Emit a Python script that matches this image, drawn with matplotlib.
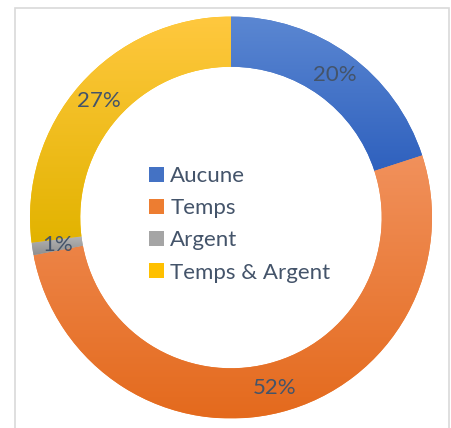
import matplotlib
matplotlib.use("Agg")
import matplotlib.pyplot as plt
import numpy as np
from matplotlib.colors import LinearSegmentedColormap
from matplotlib.patches import Rectangle

labels = ["Aucune", "Temps", "Argent", "Temps & Argent"]
values = [20, 52, 1, 27]
# gradient per slice: (top, bottom)
top_colors = ["#5B87D2", "#F1915C", "#B4B4B4", "#FFC83F"]
bottom_colors = ["#2F61BE", "#E46A1D", "#8F8F8F", "#E2B300"]
mid_colors = ["#4472C4", "#ED7D31", "#A5A5A5", "#FFC000"]
text_color = "#44546A"

plt.rcParams['font.family'] = ['Lato', 'DejaVu Sans']

fig = plt.figure(figsize=(4.52, 4.28), dpi=100)
fig.patches.append(Rectangle((15/452, -0.05), 434/452, 1.05 - 8/428,
                             transform=fig.transFigure, fill=False,
                             edgecolor="#D9D9D9", linewidth=1.2))
ax = fig.add_axes([30/452, 9.5/428, 402/452, 402/428])

wedges, texts, autotexts = ax.pie(values, colors=mid_colors, startangle=90, counterclock=False,
                                  radius=1, wedgeprops=dict(width=0.25, linewidth=0),
                                  autopct=lambda p: f"{p:.0f}%", pctdistance=0.875,
                                  textprops=dict(color=text_color, fontsize=16))
ax.set_xlim(-1, 1)
ax.set_ylim(-1, 1)
ax.set_aspect('equal')
ax.set_autoscale_on(False)

grad = np.linspace(0, 1, 256).reshape(-1, 1)
for w, c0, c1 in zip(wedges, top_colors, bottom_colors):
    ext = w.get_path().get_extents()
    cmap = LinearSegmentedColormap.from_list("g", [c0, c1])
    im = ax.imshow(grad, cmap=cmap, extent=(ext.x0, ext.x1, ext.y0, ext.y1),
                   origin='upper', aspect='auto', zorder=1.5, interpolation='bilinear')
    im.set_clip_path(w)

for t in autotexts:
    t.set_zorder(3)

leg = ax.legend(wedges, labels, loc='center', bbox_to_anchor=(0.522, 0.483), frameon=False,
                fontsize=16, labelcolor=text_color, handlelength=0.65, handleheight=0.65,
                handletextpad=0.3, labelspacing=0.55, borderpad=0)

fig.savefig("out.png", dpi=100)
